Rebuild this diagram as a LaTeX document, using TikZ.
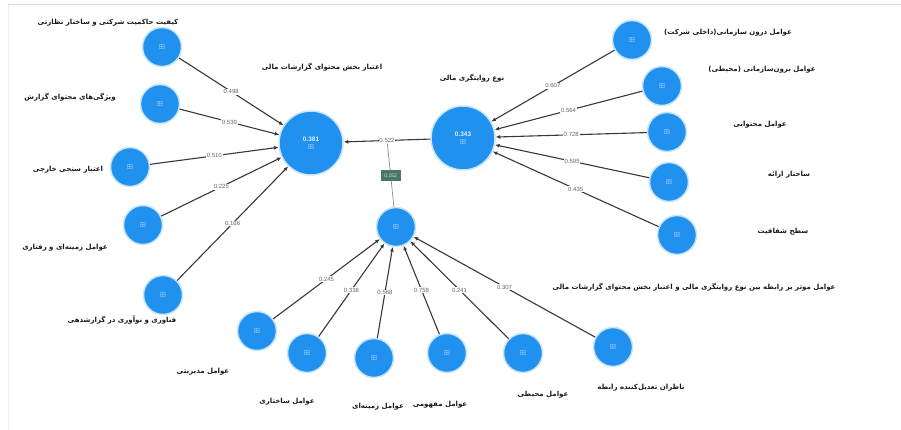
\documentclass[tikz,border=0pt]{standalone}
\usepackage{fontspec}
\usepackage{amssymb}
\setmainfont{Liberation Sans}
\newfontfamily\fafont[Script=Arabic]{DejaVu Sans}
\TeXXeTstate=1
\usetikzlibrary{arrows.meta}
\definecolor{plsblue}{RGB}{33,145,240}
\definecolor{plsgreen}{RGB}{72,118,104}
\definecolor{framegreen}{RGB}{200,228,205}
\newcommand{\fa}[1]{{\fafont\beginR #1\endR}}
\newcommand{\icon}{$\boxplus$}

\begin{document}
\begin{tikzpicture}[x=1pt, y=-1pt,
    construct/.style={circle, fill=plsblue, draw=plsblue!25, line width=1.5pt,
      minimum size=39pt, inner sep=0pt, text=white!85!plsblue,
      font=\fontsize{6.5}{7}\selectfont, align=center},
    latent/.style={construct, minimum size=64pt, font=\bfseries\fontsize{6.5}{7}\selectfont},
    pathline/.style={draw=black!78, line width=1.1pt,
      -{Latex[length=4.5pt, width=4pt]}},
    coef/.style={fill=white, inner sep=0.8pt, text=black!60,
      font=\fontsize{6}{6}\selectfont},
    varname/.style={font=\fafont\bfseries\fontsize{7}{8}\selectfont, text=black!90}]
    \useasboundingbox (0,0) rectangle (901,430);
    \draw[framegreen, line width=1pt] (8,5) -- (901,5);
    \draw[black!6, line width=0.8pt] (8,5) -- (8,430);
    % main constructs
    \node[latent] (C) at (311,143) {0.381\\[1pt]\icon};
    \node[latent] (R) at (463,138) {0.343\\[1pt]\icon};
    \node[construct] (M) at (396,227) {\icon};
    \draw[pathline] (R) -- node[coef] (k) {0.522} (C);
    \draw[black!45, line width=0.7pt] (M) -- node[fill=plsgreen, text=white!80!plsgreen,
      minimum width=20pt, minimum height=11pt, inner sep=0pt,
      font=\fontsize{5}{5}\selectfont] (mod) {0.152} (k);
    % left side
    \foreach \i/\x/\y/\v in {1/162/47/0.498, 2/160/104/0.539, 3/130/167/0.510,
        4/143/225/0.225, 5/163/295/0.166}{
        \node[construct] (L\i) at (\x,\y) {\icon};
        \draw[pathline] (L\i) -- node[coef] {\v} (C);
    };
    % right side
    \foreach \i/\x/\y/\v in {1/632/40/0.607, 2/662/86/0.564, 3/667/132/0.728,
        4/669/182/0.595, 5/677/235/0.435}{
        \node[construct] (R\i) at (\x,\y) {\icon};
        \draw[pathline] (R\i) -- node[coef] {\v} (R);
    };
    % bottom
    \foreach \i/\x/\y/\v in {1/257/331/0.245, 2/307/353/0.338, 3/374/358/0.568,
        4/447/353/0.758, 5/523/353/0.241, 6/613/347/0.307}{
        \node[construct] (B\i) at (\x,\y) {\icon};
        \draw[pathline] (B\i) -- node[coef] {\v} (M);
    };
    % names
    \node[varname] (tC) at (322,67) {\fa{اعتبار بخش محتوای گزارشات مالی}};
    \node[varname] (tR) at (472,78) {\fa{نوع روایتگری مالی}};
    \node[varname] (tM) at (694,287) {\fa{عوامل موثر بر رابطه بین نوع روایتگری مالی و اعتبار بخش محتوای گزارشات مالی}};
    \node[varname] (tL1) at (108,23) {\fa{کیفیت حاکمیت شرکتی و ساختار نظارتی}};
    \node[varname] (tL2) at (70,97) {\fa{ویژگی‌های محتوای گزارش}};
    \node[varname] (tL3) at (68,170) {\fa{اعتبار سنجی خارجی}};
    \node[varname] (tL4) at (65,248) {\fa{عوامل زمینه‌ای و رفتاری}};
    \node[varname] (tL5) at (122,320) {\fa{فناوری و نوآوری در گزارشدهی}};
    \node[varname] (tR1) at (728,33) {\fa{عوامل درون سازمانی(داخلی شرکت)}};
    \node[varname] (tR2) at (762,70) {\fa{عوامل برون‌سازمانی (محیطی)}};
    \node[varname] (tR3) at (760,125) {\fa{عوامل محتوایی}};
    \node[varname] (tR4) at (789,175) {\fa{ساختار ارائه}};
    \node[varname] (tR5) at (783,232) {\fa{سطح شفافیت}};
    \node[varname] (tB1) at (203,372) {\fa{عوامل مدیریتی}};
    \node[varname] (tB2) at (287,402) {\fa{عوامل ساختاری}};
    \node[varname] (tB3) at (378,407) {\fa{عوامل زمینه‌ای}};
    \node[varname] (tB4) at (440,405) {\fa{عوامل مفهومی}};
    \node[varname] (tB5) at (543,395) {\fa{عوامل محیطی}};
    \node[varname] (tB6) at (641,388) {\fa{ناظران تعدیل‌کننده رابطه}};
\end{tikzpicture}
\end{document}
